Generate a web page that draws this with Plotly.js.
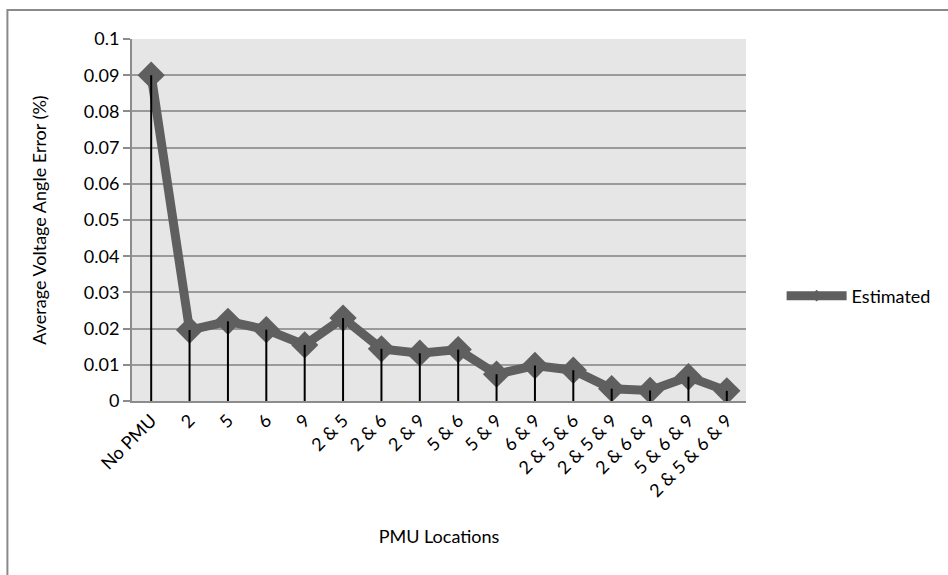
<!DOCTYPE html>
<html>
<head>
<meta charset="utf-8">
<script src="https://cdn.plot.ly/plotly-3.0.1.min.js"></script>
<style>
html,body{margin:0;padding:0;background:#fff;}
#chart{width:948px;height:575px;}
</style>
</head>
<body>
<div id="chart"></div>
<script>
const categories = ["No PMU", "2", "5", "6", "9", "2 & 5", "2 & 6", "2 & 9", "5 & 6", "5 & 9", "6 & 9", "2 & 5 & 6", "2 & 5 & 9", "2 & 6 & 9", "5 & 6 & 9", "2 & 5 & 6 & 9"];
const estimated = [0.090, 0.0196, 0.0220, 0.0197, 0.0155, 0.0229, 0.0144, 0.0132, 0.0142, 0.0074, 0.0098, 0.0085, 0.0034, 0.0029, 0.0067, 0.0028];
const yTickVals = [0, 0.01, 0.02, 0.03, 0.04, 0.05, 0.06, 0.07, 0.08, 0.09, 0.1];
const yTickText = ["0", "0.01", "0.02", "0.03", "0.04", "0.05", "0.06", "0.07", "0.08", "0.09", "0.1"];
const seriesName = "Estimated";

const lineTrace = {
  x: categories, y: estimated, type: "scatter", mode: "lines+markers",
  name: seriesName, showlegend: false,
  line: {color: "#5f5f5f", width: 9},
  marker: {symbol: "diamond", size: 21, color: "#5f5f5f"},
  hoverinfo: "x+y"
};
const dropTrace = {
  x: categories, y: estimated, type: "scatter", mode: "markers",
  marker: {size: 1, opacity: 0},
  showlegend: false, hoverinfo: "skip",
  error_y: {type: "data", symmetric: false, array: estimated.map(() => 0), arrayminus: estimated, color: "#000", thickness: 2, width: 0}
};
// legend-only entry (no visible data) with a smaller diamond, like the reference key
const legendTrace = {
  x: [categories[0]], y: [null], type: "scatter", mode: "lines+markers",
  name: seriesName, showlegend: true, hoverinfo: "skip",
  line: {color: "#5f5f5f", width: 9},
  marker: {symbol: "diamond", size: 9, color: "#5f5f5f"}
};

const ff = "Lato, 'Open Sans', sans-serif";
const fs = 18;
const layout = {
  width: 948, height: 575,
  margin: {l: 132, r: 200, t: 39, b: 174},
  paper_bgcolor: "#ffffff",
  plot_bgcolor: "#e6e6e6",
  font: {family: ff, size: fs, color: "#000"},
  showlegend: true,
  legend: {x: 1.058, y: 0.29, xanchor: "left", yanchor: "middle", itemwidth: 60, bgcolor: "rgba(0,0,0,0)", font: {size: fs, family: ff}},
  xaxis: {
    type: "category", tickangle: -45, showgrid: false,
    showline: true, linecolor: "#8c8c8c", linewidth: 2,
    ticks: "", tickfont: {size: fs, family: ff},
    range: [-0.5, categories.length - 0.5],
    title: {text: "PMU Locations", font: {size: fs, family: ff}, standoff: 30}
  },
  yaxis: {
    range: [0, 0.1], tickvals: yTickVals, ticktext: yTickText,
    showgrid: true, gridcolor: "#9a9a9a", gridwidth: 2,
    showline: true, linecolor: "#8c8c8c", linewidth: 2,
    ticks: "outside", ticklen: 7, tickcolor: "#8c8c8c", tickwidth: 2,
    zeroline: false, tickfont: {size: fs, family: ff},
    title: {text: "Average Voltage Angle Error (%)", font: {size: fs, family: ff}, standoff: 33}
  },
  shapes: [{
    type: "rect", xref: "paper", yref: "paper",
    x0: (7 - 132) / 616, x1: 2, y0: -1, y1: 1 + (39 - 10) / 362,
    line: {color: "#8a8a8a", width: 2}, fillcolor: "rgba(0,0,0,0)", layer: "below"
  }]
};

Plotly.newPlot("chart", [lineTrace, dropTrace, legendTrace], layout, {displayModeBar: false, staticPlot: true});
</script>
</body>
</html>
